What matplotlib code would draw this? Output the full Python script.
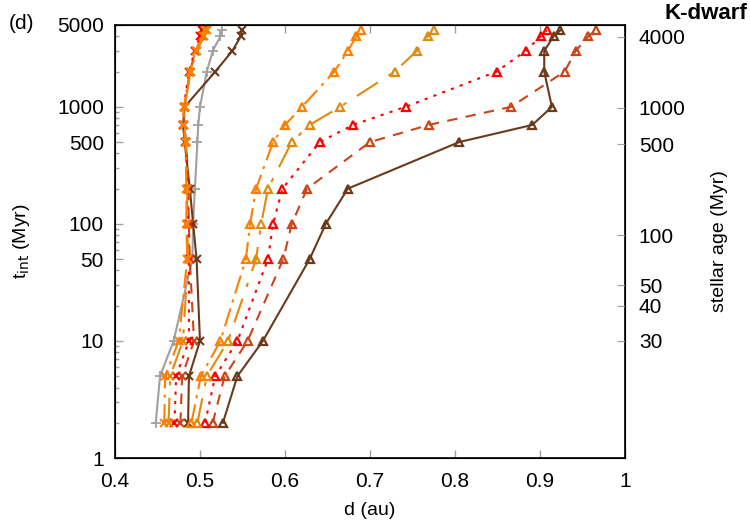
import matplotlib.pyplot as plt
from matplotlib.ticker import FixedLocator, NullFormatter

plt.rcParams["font.family"] = ["Liberation Sans", "DejaVu Sans"]

# Times (Myr) at which d was evaluated
t_int = [2, 5, 10, 50, 100, 200, 500, 700, 1000, 2000, 3000, 4000, 4500]

# Triangle series (outer)
tri_orange = [0.490, 0.501, 0.524, 0.554, 0.559, 0.566, 0.586, 0.600, 0.620, 0.658, 0.674, 0.684, 0.690]
tri_ochre = [0.497, 0.508, 0.533, 0.566, 0.572, 0.580, 0.608, 0.629, 0.665, 0.729, 0.755, 0.768, 0.775]
tri_red = [0.506, 0.518, 0.544, 0.580, 0.586, 0.597, 0.641, 0.680, 0.742, 0.849, 0.883, 0.901, 0.908]
tri_brick = [0.515, 0.529, 0.556, 0.598, 0.608, 0.626, 0.700, 0.769, 0.866, 0.929, 0.942, 0.957, 0.966]
tri_brown = [0.527, 0.544, 0.574, 0.629, 0.648, 0.674, 0.805, 0.891, 0.914, 0.905, 0.905, 0.916, 0.924]

# Cross series (inner)
x_grey = [0.448, 0.453, 0.469, 0.491, 0.492, 0.494, 0.497, 0.498, 0.500, 0.508, 0.515, 0.524, 0.526]
x_orange = [0.458, 0.459, 0.475, 0.485, 0.484, 0.484, 0.483, 0.480, 0.481, 0.488, 0.495, 0.503, 0.506]
x_ochre = [0.463, 0.465, 0.480, 0.486, 0.485, 0.485, 0.484, 0.481, 0.482, 0.489, 0.496, 0.505, 0.508]
x_red = [0.470, 0.472, 0.487, 0.487, 0.486, 0.486, 0.483, 0.480, 0.481, 0.487, 0.494, 0.500, 0.502]
x_brick = [0.477, 0.479, 0.493, 0.488, 0.487, 0.486, 0.484, 0.481, 0.482, 0.488, 0.495, 0.502, 0.504]
x_brown = [0.486, 0.487, 0.500, 0.496, 0.492, 0.488, 0.482, 0.480, 0.482, 0.518, 0.538, 0.548, 0.549]

# Stellar age ticks on the right axis (age = t_int + 20 Myr)
age_ticks = [4000, 1000, 500, 100, 50, 40, 30]
age_offset = 20

left_ticks = [1, 10, 50, 100, 500, 1000, 5000]
x_ticks = [0.4, 0.5, 0.6, 0.7, 0.8, 0.9, 1.0]

colors = {
    "orange": "#ff8000",
    "ochre": "#e08a10",
    "red": "#ff0000",
    "brick": "#cc4418",
    "brown": "#6b3a1a",
    "grey": "#a0a0a0",
}
styles = {
    "orange": (0, (9, 3, 1.5, 3)),
    "ochre": (0, (12, 6, 2, 6)),
    "red": (0, (1.5, 3)),
    "brick": (0, (5, 4)),
    "brown": "-",
}


def main():
    fig = plt.figure(figsize=(7.5, 5.25), dpi=100)
    ax = fig.add_axes([0.1533, 0.1276, 0.68, 0.8248])

    crosses = [("brown", x_brown), ("brick", x_brick), ("red", x_red),
               ("ochre", x_ochre), ("orange", x_orange)]
    triangles = [("brown", tri_brown), ("brick", tri_brick), ("red", tri_red),
                 ("ochre", tri_ochre), ("orange", tri_orange)]

    ax.plot(x_grey, t_int, color=colors["grey"], lw=1.5, marker="+",
            ms=7, mew=1.3)
    for name, vals in crosses:
        ax.plot(vals, t_int, color=colors[name], ls=styles[name], lw=1.5,
                marker="x", ms=6, mew=1.5)
    for name, vals in triangles:
        ax.plot(vals, t_int, color=colors[name], ls=styles[name], lw=1.5,
                marker="^", ms=6, mew=1.6, mfc="none")

    ax.set_yscale("log")
    ax.set_xlim(0.4, 1.0)
    ax.set_ylim(1, 5000)
    ax.set_xticks(x_ticks)
    ax.set_xticklabels(["0.4", "0.5", "0.6", "0.7", "0.8", "0.9", "1"])
    ax.yaxis.set_major_locator(FixedLocator(left_ticks))
    ax.set_yticklabels([str(v) for v in left_ticks])
    ax.yaxis.set_minor_formatter(NullFormatter())
    ax.tick_params(which="both", direction="in", color="#a0a0a0",
                   labelsize=15, top=True)
    ax.tick_params(axis="x", pad=10)
    ax.tick_params(axis="y", pad=8)
    ax.tick_params(which="major", length=6, width=1)
    ax.tick_params(which="minor", length=3, width=1)
    ax.set_xlabel("d (au)", fontsize=14, labelpad=8)
    ax.set_ylabel(r"t$_{\rm int}$ (Myr)", fontsize=14, labelpad=18)
    for sp in ax.spines.values():
        sp.set_linewidth(1.2)

    # Right axis: stellar age
    ax2 = ax.twinx()
    ax2.set_yscale("log")
    ax2.set_ylim(1, 5000)
    ax2.yaxis.set_major_locator(FixedLocator([a - age_offset for a in age_ticks]))
    ax2.set_yticklabels([str(a) for a in age_ticks])
    ax2.yaxis.set_minor_locator(FixedLocator([]))
    ax2.tick_params(direction="in", color="#a0a0a0", length=6, labelsize=15, pad=10)
    ax2.set_ylabel("stellar age (Myr)", fontsize=14, labelpad=18)

    fig.text(0.012, 0.955, "(d)", fontsize=15, va="center")
    fig.text(0.997, 0.975, "K-dwarf", fontsize=16, fontweight="bold",
             ha="right", va="center")

    fig.savefig("out.png", dpi=100)


if __name__ == "__main__":
    main()
